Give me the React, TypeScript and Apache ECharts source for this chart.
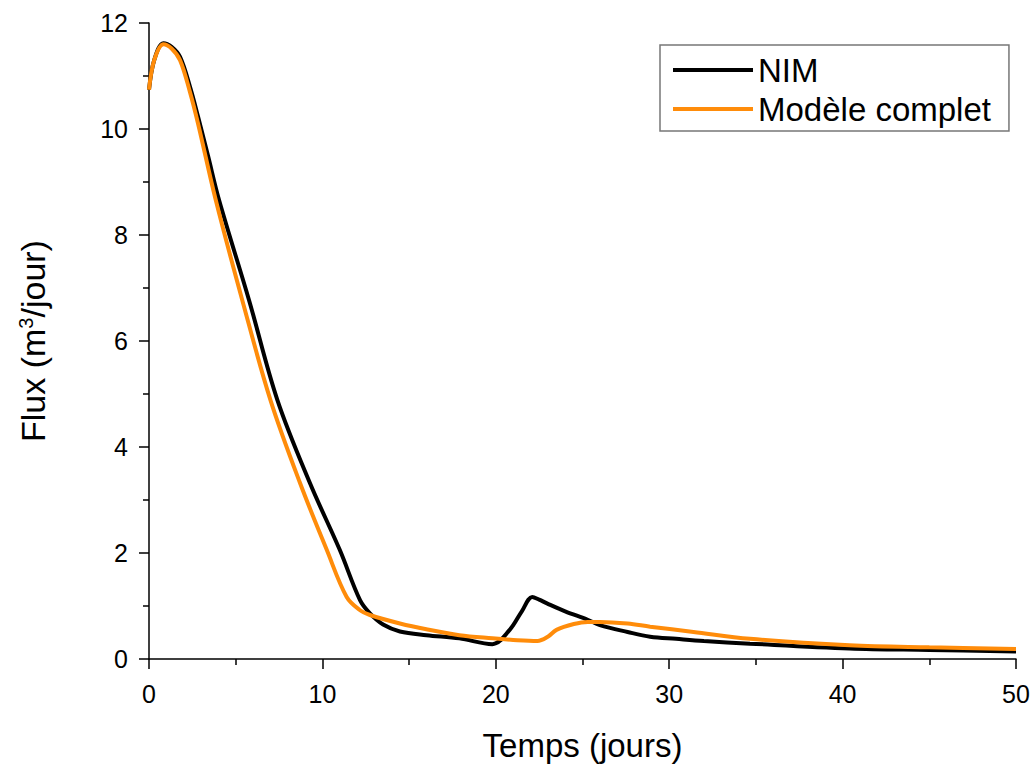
import React, { useEffect, useRef } from "react";
import * as echarts from "echarts";

const nimTime = [0, 0.3, 0.83, 1.3, 1.79, 2.36, 2.83, 3.4, 4.04, 5.77, 7.4, 9.28, 11.0, 12.17, 12.74, 13.5, 14.47, 16, 17.9, 19.8, 20.8, 21.5, 22.1, 22.5, 22.95, 24, 25.3, 26, 27.6, 28.9, 30.4, 32, 34.66, 40.4, 45, 50];
const nimFlux = [10.74, 11.3, 11.62, 11.55, 11.36, 10.8, 10.23, 9.5, 8.66, 6.77, 4.89, 3.32, 2.06, 1.11, 0.86, 0.65, 0.52, 0.45, 0.39, 0.28, 0.55, 0.9, 1.17, 1.12, 1.05, 0.9, 0.74, 0.64, 0.51, 0.42, 0.38, 0.34, 0.29, 0.2, 0.17, 0.14];

const fullTime = [0, 0.3, 0.83, 1.3, 1.79, 2.36, 2.83, 3.85, 5.38, 7.0, 8.71, 10.25, 11.4, 12.17, 12.74, 14.47, 16, 17.9, 19.8, 21, 22.4, 23, 23.5, 24.5, 25.3, 26, 27.6, 28.9, 31.4, 34.66, 40.4, 45, 50];
const fullFlux = [10.74, 11.3, 11.6, 11.52, 11.3, 10.7, 10.1, 8.66, 6.77, 4.89, 3.32, 2.06, 1.17, 0.92, 0.83, 0.67, 0.56, 0.45, 0.39, 0.36, 0.34, 0.42, 0.55, 0.66, 0.7, 0.7, 0.67, 0.61, 0.51, 0.38, 0.26, 0.22, 0.19];

const seriesNames = ["NIM", "Modèle complet"];
const xTitle = "Temps (jours)";
const yTitle = "Flux (m{sup|3}/jour)";

const FONT = "'Liberation Sans', Arial, sans-serif";

export default function App() {
  const ref = useRef<HTMLDivElement>(null);
  useEffect(() => {
    if (!ref.current) return;
    const chart = echarts.init(ref.current, null, { renderer: "svg" });
    const axisLine = { show: true, lineStyle: { color: "#000", width: 1.5 } };
    const tick = { show: true, inside: false, length: 10, lineStyle: { color: "#000", width: 1.5 } };
    const minor = { show: true, splitNumber: 2, length: 6, lineStyle: { color: "#000", width: 1.5 } };
    chart.setOption({
      animation: false,
      backgroundColor: "#fff",
      textStyle: { fontFamily: FONT },
      grid: { left: 149, right: 20, top: 23, bottom: 110, containLabel: false },
      legend: {
        orient: "vertical",
        left: 660,
        top: 45,
        padding: [7, 18, 4, 13],
        itemGap: 3,
        itemWidth: 80,
        itemHeight: 4,
        icon: "rect",
        borderColor: "#777",
        borderWidth: 1.5,
        textStyle: { fontSize: 33, color: "#000", fontFamily: FONT, lineHeight: 36 },
        data: seriesNames,
      },
      xAxis: {
        type: "value",
        min: 0,
        max: 50,
        interval: 10,
        name: xTitle,
        nameLocation: "middle",
        nameGap: 70,
        nameTextStyle: { fontSize: 33, color: "#000", fontFamily: FONT },
        axisLine,
        axisTick: tick,
        minorTick: minor,
        axisLabel: { fontSize: 25, color: "#000", margin: 22, fontFamily: FONT },
        splitLine: { show: false },
      },
      yAxis: {
        type: "value",
        min: 0,
        max: 12,
        interval: 2,
        name: yTitle,
        nameLocation: "middle",
        nameGap: 99,
        nameTextStyle: {
          fontSize: 34,
          color: "#000",
          fontFamily: FONT,
          rich: {
            sup: { fontSize: 20, color: "#000", fontFamily: FONT, verticalAlign: "top" },
          },
        },
        axisLine,
        axisTick: tick,
        minorTick: minor,
        axisLabel: { fontSize: 25, color: "#000", margin: 21, fontFamily: FONT },
        splitLine: { show: false },
      },
      series: [
        {
          name: seriesNames[0],
          type: "line",
          data: nimTime.map((t, i) => [t, nimFlux[i]]),
          showSymbol: false,
          symbol: "none",
          smooth: 0.35,
          lineStyle: { color: "#000", width: 4 },
          itemStyle: { color: "#000" },
          z: 2,
        },
        {
          name: seriesNames[1],
          type: "line",
          data: fullTime.map((t, i) => [t, fullFlux[i]]),
          showSymbol: false,
          symbol: "none",
          smooth: 0.35,
          lineStyle: { color: "#FF8C0A", width: 4 },
          itemStyle: { color: "#FF8C0A" },
          z: 3,
        },
      ],
    });
    return () => chart.dispose();
  }, []);
  return <div ref={ref} style={{ width: 1036, height: 769, position: "absolute", left: 0, top: 0 }} />;
}
